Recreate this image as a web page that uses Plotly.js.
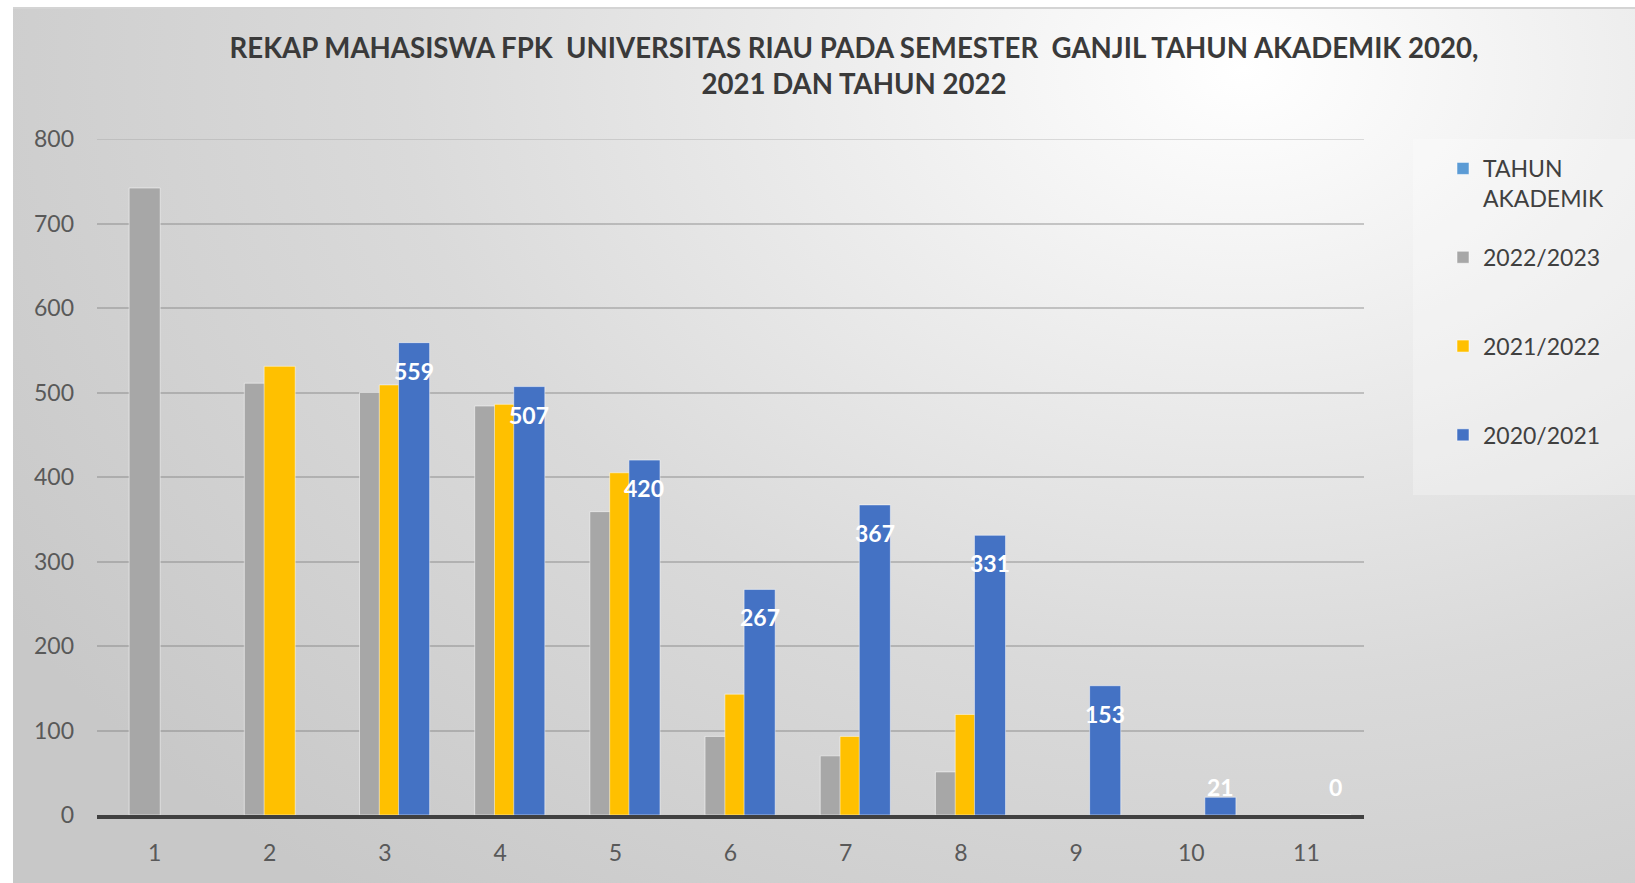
<!DOCTYPE html>
<html><head><meta charset="utf-8">
<script src="https://cdn.plot.ly/plotly-3.0.1.min.js"></script>
<style>
html,body{margin:0;padding:0;background:#fff;overflow:hidden;width:1635px;height:883px;}
#bg{position:absolute;left:13px;top:7px;width:1622px;height:876px;box-sizing:border-box;
background:radial-gradient(ellipse 1450px 1050px at 1230px 60px,#ffffff 0%,#ededed 28%,#dadada 58%,#c8c8c8 100%);border-top:2px solid #d4d4d4;}
#chart{position:absolute;left:0;top:0;width:1635px;height:883px;}
</style></head><body><div id="bg"></div><div id="chart"></div>
<script>
// ---- data ----
const categories = [1, 2, 3, 4, 5, 6, 7, 8, 9, 10, 11];
const tahunAkademik = [null, null, null, null, null, null, null, null, null, null, null];
const tahun2022 = [742, 511, 500, 484, 359, 93, 70, 51, null, null, null];
const tahun2021 = [null, 531, 509, 486, 405, 143, 93, 119, null, null, null];
const tahun2020 = [null, null, 559, 507, 420, 267, 367, 331, 153, 21, 0];
const seriesNames = ['TAHUN AKADEMIK', '2022/2023', '2021/2022', '2020/2021'];
const titleLine1 = 'REKAP MAHASISWA FPK \u00a0UNIVERSITAS RIAU PADA SEMESTER \u00a0GANJIL TAHUN AKADEMIK 2020,';
const titleLine2 = '2021 DAN TAHUN 2022';
const yMax = 800;

// ---- style ----
const FONT = 'Lato, "Open Sans", sans-serif';
const colors = ['#5b9bd5', '#a7a7a7', '#ffc000', '#4472c4'];
const barWidth = 0.27;
const centers = [-0.253, -0.086, 0.086, 0.253];

function fitSize(text, weight, family, target) {
  const c = document.createElement('canvas').getContext('2d');
  c.font = weight + ' 100px ' + family;
  const w = c.measureText(text.replace(/\u00a0/g, ' ')).width;
  return 100 * target / w;
}
const titleSize = Math.min(30, Math.max(20, fitSize(titleLine1, 'bold', 'Lato', 1254)));

const legendNames = [
  'TAHUN<br>AKADEMIK',
  seriesNames[1] + '<br>\u00a0',
  seriesNames[2] + '<br>\u00a0',
  seriesNames[3] + '<br>\u00a0'
];
const seriesData = [tahunAkademik, tahun2022, tahun2021, tahun2020];

const traces = seriesData.map((ys, i) => ({
  type: 'bar',
  name: legendNames[i],
  legendgroup: 'g' + i,
  x: categories,
  y: ys,
  width: barWidth,
  offset: centers[i] - barWidth / 2,
  marker: {
    color: colors[i],
    line: {color: 'rgba(255,255,255,0.5)', width: 1}
  },
  hoverinfo: 'x+y+name'
}));

// data labels for 2020/2021
const pxPerUnit = 676 / yMax;
const annotations = [];
categories.forEach((c, i) => {
  const v = tahun2020[i];
  if (v === null) return;
  annotations.push({
    x: c + centers[3], y: Math.max(v, 56 / pxPerUnit), xref: 'x', yref: 'y',
    text: '<b>' + String(v) + '</b>', showarrow: false, yshift: -28, yanchor: 'middle',
    font: {family: FONT, size: 23, color: '#ffffff'}
  });
});

const layout = {
  width: 1635, height: 883,
  margin: {l: 97, r: 271, t: 139, b: 68},
  paper_bgcolor: 'rgba(0,0,0,0)',
  plot_bgcolor: 'rgba(0,0,0,0)',
  barmode: 'overlay',
  showlegend: true,
  font: {family: FONT, color: '#595959'},
  title: {
    text: '<b>' + titleLine1 + '<br>' + titleLine2 + '</b>',
    font: {family: FONT, size: titleSize, color: '#3a3a3a'},
    x: 854 / 1635, xref: 'container', xanchor: 'center',
    y: 1 - 58 / 883, yref: 'container', yanchor: 'middle'
  },
  xaxis: {
    range: [0.5, 11.5], tickvals: categories, ticktext: categories.map(String),
    showgrid: false, zeroline: false, ticks: '',
    showline: true, linecolor: '#404040', linewidth: 4,
    tickfont: {family: FONT, size: 23, color: '#595959'},
    ticklabelstandoff: 14, fixedrange: true
  },
  yaxis: {
    range: [0, yMax], dtick: 100, tick0: 0,
    showgrid: true, gridcolor: 'rgba(120,120,120,0.38)', gridwidth: 2,
    zeroline: false, ticks: '', showline: false,
    tickfont: {family: FONT, size: 23, color: '#595959'},
    ticklabelstandoff: 22, fixedrange: true
  },
  legend: {
    xref: 'container', yref: 'container',
    x: 1443 / 1635, xanchor: 'left',
    y: 1 - 147 / 883, yanchor: 'top',
    bgcolor: 'rgba(0,0,0,0)',
    font: {family: FONT, size: 23, color: '#404040'},
    tracegroupgap: 26, valign: 'top', itemclick: false, itemdoubleclick: false
  },
  shapes: [{
    type: 'rect', xref: 'paper', yref: 'paper', layer: 'below',
    x0: (1413 - 97) / 1267, x1: (1640 - 97) / 1267,
    y0: (815 - 495) / 676, y1: (815 - 139) / 676,
    fillcolor: 'rgba(255,255,255,0.28)', line: {width: 0}
  }, {
    type: 'line', xref: 'paper', yref: 'y', layer: 'below',
    x0: 0, x1: 1, y0: yMax, y1: yMax,
    line: {color: 'rgba(150,150,150,0.3)', width: 2}
  }],
  annotations: annotations
};

Plotly.newPlot('chart', traces, layout, {displayModeBar: false, staticPlot: true});
</script>
</body></html>
